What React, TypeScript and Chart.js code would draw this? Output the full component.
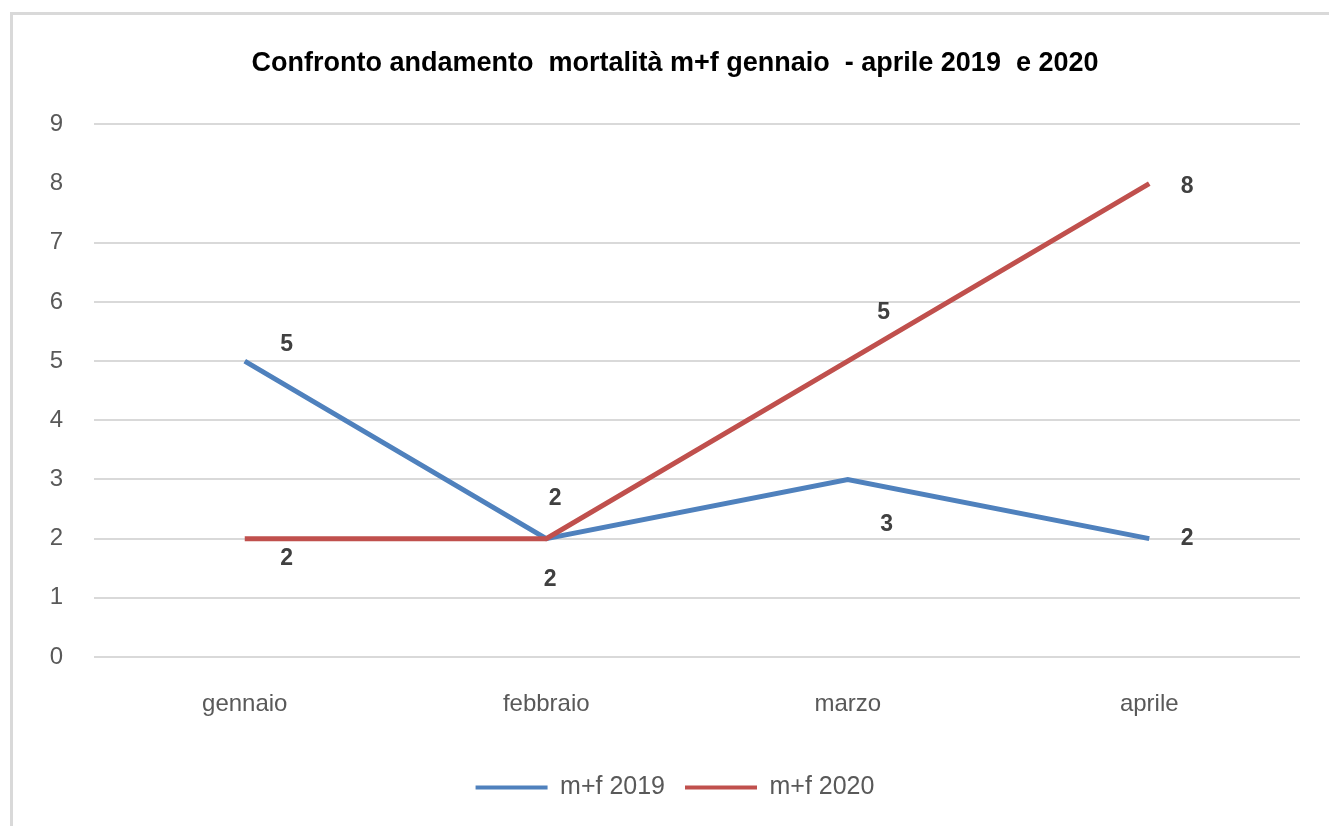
import React, { useEffect, useRef } from "react";
import { Chart, registerables } from "chart.js";

Chart.register(...registerables);

const categories = ["gennaio", "febbraio", "marzo", "aprile"];
const series2019 = [5, 2, 3, 2];
const series2020 = [2, 2, 5, 8];
const seriesNames = ["m+f 2019", "m+f 2020"];
const yTicks = [0, 1, 2, 3, 4, 5, 6, 7, 8, 9];
const titleText = "Confronto andamento  mortalità m+f gennaio  - aprile 2019  e 2020";

// label offsets (style only): [dx, dy] relative to each point
const labelOffsets2019: [number, number][] = [[42, -16], [4, 41], [39, 45], [38, 0]];
const labelOffsets2020: [number, number][] = [[42, 20], [9, -40], [36, -48], [38, 3]];

const FONT = "'Liberation Sans', Arial, sans-serif";

const dataLabelPlugin = {
  id: "dataLabels",
  afterDatasetsDraw(chart: any) {
    const ctx = chart.ctx;
    const offsets = [labelOffsets2019, labelOffsets2020];
    ctx.save();
    ctx.font = `bold 23px ${FONT}`;
    ctx.fillStyle = "#404040";
    ctx.textAlign = "center";
    ctx.textBaseline = "middle";
    chart.data.datasets.forEach((ds: any, di: number) => {
      const meta = chart.getDatasetMeta(di);
      meta.data.forEach((pt: any, i: number) => {
        const [dx, dy] = offsets[di][i];
        ctx.fillText(String(ds.data[i]), pt.x + dx, pt.y + dy);
      });
    });
    ctx.restore();
  },
};

export default function App() {
  const ref = useRef<HTMLCanvasElement>(null);

  useEffect(() => {
    if (!ref.current) return;
    const chart = new Chart(ref.current, {
      type: "line",
      data: {
        labels: categories,
        datasets: [
          {
            label: seriesNames[0],
            data: series2019,
            borderColor: "#4F81BD",
            backgroundColor: "#4F81BD",
            borderWidth: 5,
            pointRadius: 0,
            tension: 0,
            order: 1,
          },
          {
            label: seriesNames[1],
            data: series2020,
            borderColor: "#C0504D",
            backgroundColor: "#C0504D",
            borderWidth: 5,
            pointRadius: 0,
            tension: 0,
            order: 0,
          },
        ],
      },
      options: {
        animation: false,
        responsive: false,
        maintainAspectRatio: false,
        events: [],
        layout: { padding: { left: 50, right: 29, top: 0, bottom: 16 } },
        plugins: {
          tooltip: { enabled: false },
          title: {
            display: true,
            text: titleText,
            color: "#000000",
            font: { family: FONT, size: 27, weight: "bold" },
            padding: { top: 47, bottom: 45 },
          },
          legend: {
            position: "bottom",
            labels: {
              boxWidth: 72,
              boxHeight: 4,
              padding: 20,
              color: "#595959",
              font: { family: FONT, size: 25 },
              generateLabels(chart: any) {
                return chart.data.datasets.map((ds: any, i: number) => ({
                  text: ds.label,
                  fillStyle: ds.borderColor,
                  strokeStyle: ds.borderColor,
                  lineWidth: 0,
                  fontColor: "#595959",
                  hidden: false,
                  datasetIndex: i,
                }));
              },
            },
          },
        },
        scales: {
          x: {
            offset: true,
            grid: { display: false, drawTicks: false },
            border: { display: false },
            ticks: {
              color: "#595959",
              font: { family: FONT, size: 24 },
              padding: 33,
              maxRotation: 0,
            },
            afterFit(scale: any) {
              scale.height = 98;
            },
          },
          y: {
            min: 0,
            max: 9,
            afterBuildTicks(scale: any) {
              scale.ticks = yTicks.map((v) => ({ value: v }));
            },
            grid: {
              drawTicks: false,
              lineWidth: 2,
              color: (c: any) => (c.tick && c.tick.value === 8 ? "rgba(0,0,0,0)" : "#d9d9d9"),
            },
            border: { display: false },
            ticks: {
              color: "#595959",
              font: { family: FONT, size: 24 },
              padding: 31,
            },
            afterFit(scale: any) {
              scale.width = 44;
            },
          },
        },
      },
      plugins: [dataLabelPlugin],
    });
    return () => chart.destroy();
  }, []);

  return (
    <div
      style={{
        position: "absolute",
        left: 0,
        top: 0,
        width: 1329,
        height: 826,
        overflow: "hidden",
        background: "#ffffff",
      }}
    >
      <div
        style={{
          position: "absolute",
          left: 10,
          top: 12,
          width: 1400,
          height: 900,
          borderLeft: "3px solid #d9d9d9",
          borderTop: "3px solid #d9d9d9",
        }}
      />
      <canvas
        ref={ref}
        width={1329}
        height={826}
        style={{ position: "absolute", left: 0, top: 0, width: 1329, height: 826 }}
      />
    </div>
  );
}
